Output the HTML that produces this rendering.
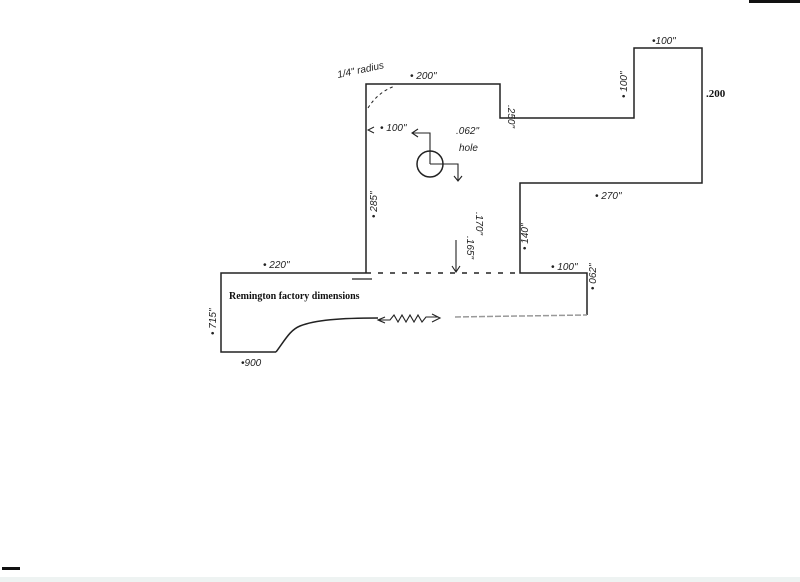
<!DOCTYPE html>
<html><head><style>
html,body{margin:0;padding:0;background:#fff;width:800px;height:582px;overflow:hidden}
svg{display:block}
.h{font-family:"Liberation Sans",sans-serif;font-size:10px;fill:#222;font-style:italic}
</style></head><body>
<svg width="800" height="582" viewBox="0 0 800 582">
<rect x="749" y="0" width="51" height="3" fill="#111"/>
<rect x="2" y="567" width="18" height="3" fill="#111"/>
<rect x="0" y="577" width="800" height="5" fill="#eef3f2"/>
<g fill="none" stroke="#222" stroke-width="1.5">
<polyline points="366,273 366,84 500,84 500,118 634,118 634,48 702,48 702,183 520,183 520,273 587,273 587,315"/>
<polyline points="366,273 221,273 221,352 276,352"/>
<path d="M276,352 C285,340 290,330 300,326 C315,320 340,318 378,318"/>
<path d="M455,317 L587,315" stroke="#999" stroke-dasharray="6,2"/>
<path d="M366,273 L520,273" stroke-dasharray="5,7"/>
<path d="M352,279 L372,279" stroke-width="1.2"/>
<path d="M368,108 Q378,92 395,86" stroke-dasharray="3,3" stroke-width="1"/>
<circle cx="430" cy="164" r="13"/>
<path d="M430,164 V133 H413 M418,129 L412,133 L418,137" stroke-width="1.1"/>
<path d="M430,164 H458 V180 M454,176 L458,181 L462,176" stroke-width="1.1"/>
<path d="M456,240 V272 M452,266 L456,272 L460,266" stroke-width="1.1"/>
<path d="M374,127 L368,130 L374,133" stroke-width="1"/>
<path d="M385,317 L378,320 L385,323 M378,320 H390 L394,315 L398,322 L402,315 L406,322 L410,315 L414,322 L418,315 L422,322 L426,317 H438 M432,314 L440,318 L432,322" stroke-width="1.1"/>
</g>
<text class="h" x="338" y="78" transform="rotate(-12 338 78)">1/4" radius</text>
<text class="h" x="410" y="79">• 200"</text>
<text class="h" x="508" y="105" transform="rotate(90 508 105)" font-size="8">.250"</text>
<text class="h" x="652" y="44">•100"</text>
<text class="h" x="627" y="98" transform="rotate(-90 627 98)">• 100"</text>
<text x="706" y="97" font-family="Liberation Serif,serif" font-weight="bold" font-size="11" fill="#111">.200</text>
<text class="h" x="380" y="131">• 100"</text>
<text class="h" x="456" y="134">.062"</text>
<text class="h" x="459" y="151">hole</text>
<text class="h" x="595" y="199">• 270"</text>
<text class="h" x="377" y="218" transform="rotate(-90 377 218)" font-size="12">• 285"</text>
<text class="h" x="467" y="236" transform="rotate(90 467 236)">.165"</text>
<text class="h" x="476" y="212" transform="rotate(90 476 212)">.170"</text>
<text class="h" x="528" y="250" transform="rotate(-90 528 250)">• 140"</text>
<text class="h" x="263" y="268">• 220"</text>
<text class="h" x="551" y="270">• 100"</text>
<text class="h" x="596" y="290" transform="rotate(-90 596 290)">• 062"</text>
<text class="h" x="216" y="335" transform="rotate(-90 216 335)">• 715"</text>
<text class="h" x="241" y="366">•900</text>
<text x="229" y="299" font-family="Liberation Serif,serif" font-weight="bold" font-size="10" fill="#111">Remington factory dimensions</text>
</svg>
</body></html>
